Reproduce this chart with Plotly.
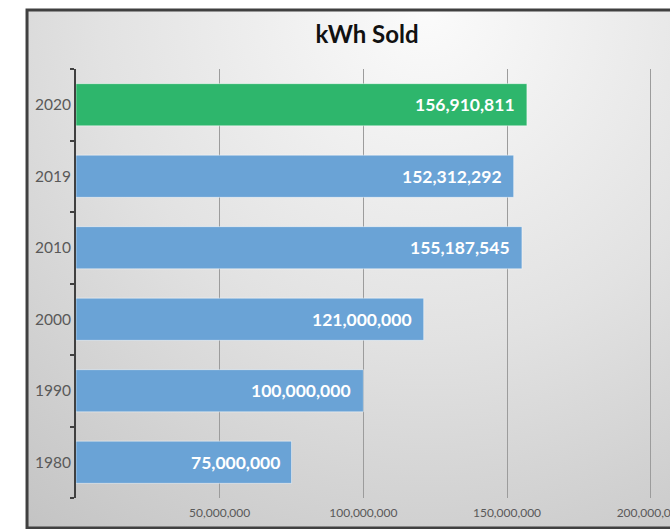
import base64
import plotly.graph_objects as go

# ---- data ----
years = ["1980", "1990", "2000", "2010", "2019", "2020"]
kwh_sold = [75000000, 100000000, 121000000, 155187545, 152312292, 156910811]
highlight_year = "2020"
x_tick_values = [50000000, 100000000, 150000000, 200000000]
x_max = 200000000
title_text = "kWh Sold"

# ---- styles ----
BLUE = "#6aa3d6"
GREEN = "#2eb66c"
FONT = "Lato"

W, H = 670, 529
L, R, T, B = 76, 651, 69, 498  # plot area in pixels
FX0, FY0, FX1, FY1 = 27, 10, 708, 528  # chart frame

# extend range a hair so the last gridline is drawn
EXT = 1.004
R_ext = L + (R - L) * EXT

bar_colors = [GREEN if y == highlight_year else BLUE for y in years]

fig = go.Figure()
fig.add_trace(go.Bar(
    y=years, x=kwh_sold, orientation="h",
    marker=dict(color=bar_colors, line=dict(color="rgba(255,255,255,0.45)", width=1)),
    hoverinfo="skip",
))

# data labels at bar ends (category axis -> serial index)
for i, xv in enumerate(kwh_sold):
    fig.add_annotation(
        x=xv, y=i, xref="x", yref="y", text=f"<b>{xv:,}</b>",
        showarrow=False, xanchor="right", xshift=-10,
        font=dict(family=FONT, size=17.5, color="white"),
    )

# gradient background (svg radial gradient)
fw, fh = FX1 - FX0, FY1 - FY0
svg = f'''<svg xmlns="http://www.w3.org/2000/svg" width="{fw}" height="{fh}" viewBox="0 0 {fw} {fh}" preserveAspectRatio="none">
<defs><radialGradient id="g" gradientUnits="userSpaceOnUse" cx="400" cy="0" r="660">
<stop offset="0" stop-color="#fbfbfb"/><stop offset="0.5" stop-color="#e2e2e2"/><stop offset="1" stop-color="#c3c3c3"/>
</radialGradient></defs><rect x="0" y="0" width="{fw}" height="{fh}" fill="url(#g)"/></svg>'''
src = "data:image/svg+xml;base64," + base64.b64encode(svg.encode()).decode()

pw, ph = R_ext - L, B - T
def px_x(p):
    return (p - L) / pw
def px_y(p):
    return (B - p) / ph

fig.add_layout_image(dict(
    source=src, xref="paper", yref="paper",
    x=px_x(FX0), y=px_y(FY0), sizex=(FX1 - FX0) / pw, sizey=(FY1 - FY0) / ph,
    xanchor="left", yanchor="top", sizing="stretch", layer="below",
))
fig.add_shape(type="rect", xref="paper", yref="paper",
              x0=px_x(FX0), x1=px_x(FX1), y0=px_y(FY0), y1=px_y(FY1),
              line=dict(color="#404040", width=3), fillcolor="rgba(0,0,0,0)", layer="above")

fig.update_layout(
    width=W, height=H,
    margin=dict(l=L, r=W - R_ext, t=T, b=H - B, pad=0, autoexpand=False),
    paper_bgcolor="white", plot_bgcolor="rgba(0,0,0,0)",
    bargap=0.41, showlegend=False,
    title=dict(text=f"<b>{title_text}</b>", x=367 / W, xanchor="center", xref="container",
               y=1 - 35 / H, yanchor="middle", yref="container",
               font=dict(family=FONT, size=24, color="#111111")),
    font=dict(family=FONT),
)
fig.update_xaxes(
    range=[0, x_max * EXT], autorange=False, tickvals=x_tick_values, tickformat=",",
    showgrid=True, gridcolor="#9c9c9c", gridwidth=1, zeroline=False,
    showline=False, ticks="", ticklabelstandoff=6, ticklabeloverflow="allow",
    tickfont=dict(family=FONT, size=12, color="#595959"),
    fixedrange=True, automargin=False,
)
fig.update_yaxes(
    type="category", categoryorder="array", categoryarray=years,
    range=[-0.5, len(years) - 0.5], autorange=False,
    showline=True, linecolor="#404040", linewidth=2,
    ticks="outside", tickson="boundaries", ticklen=4, tickwidth=2, tickcolor="#404040",
    showgrid=False, zeroline=False,
    tickfont=dict(family=FONT, size=15.5, color="#595959"),
    fixedrange=True, automargin=False,
)

fig.write_html(
    "out.html",
    config={"displayModeBar": False},
    post_script="document.body.style.margin='0';document.body.style.overflow='hidden';",
)
